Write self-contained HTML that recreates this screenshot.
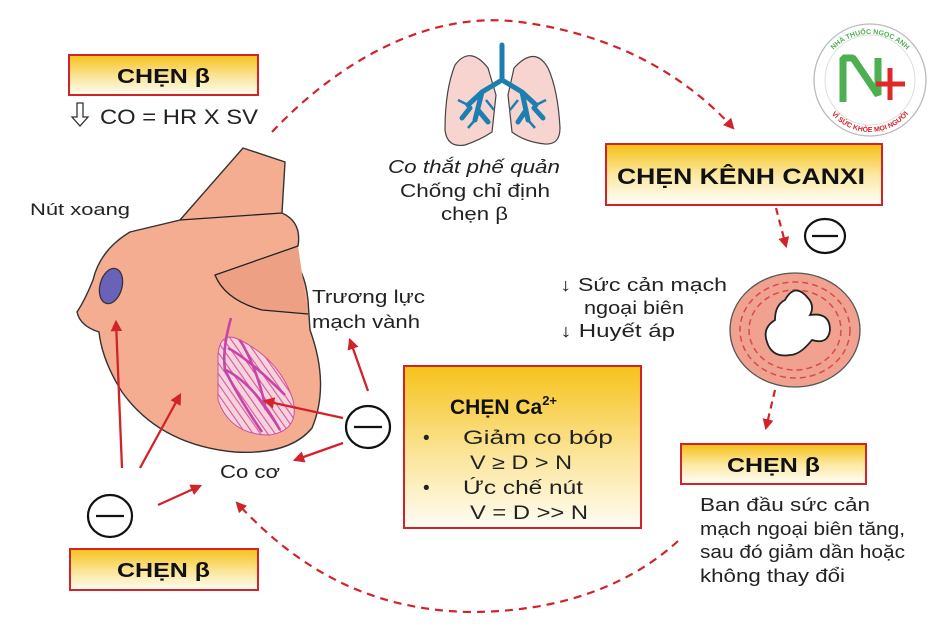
<!DOCTYPE html>
<html><head><meta charset="utf-8"><style>
html,body{margin:0;padding:0;background:#fff;}
svg{display:block;font-family:"Liberation Sans",sans-serif;}
</style></head><body>
<svg width="950" height="633" viewBox="0 0 950 633" xmlns="http://www.w3.org/2000/svg">
<defs>
<linearGradient id="yg" x1="0" y1="0" x2="0" y2="1">
<stop offset="0" stop-color="#f6c21a"/><stop offset="0.55" stop-color="#fbe59a"/><stop offset="1" stop-color="#fffdf4"/>
</linearGradient>
<linearGradient id="yg2" x1="0" y1="0" x2="0" y2="1">
<stop offset="0" stop-color="#f5bf10"/><stop offset="0.5" stop-color="#fbe8a0"/><stop offset="1" stop-color="#fffefa"/>
</linearGradient>
<pattern id="hatch" width="6" height="6" patternUnits="userSpaceOnUse" patternTransform="rotate(-35)">
<rect width="6" height="6" fill="#f7d3de"/><line x1="0" y1="0" x2="0" y2="6" stroke="#d6589a" stroke-width="2.2"/>
</pattern>
<marker id="ar" viewBox="0 0 10 10" refX="8" refY="5" markerWidth="5" markerHeight="5" orient="auto"><path d="M0,0 L10,5 L0,10 z" fill="#d2232a"/></marker>
</defs>

<!-- dashed curves -->
<path d="M272,132 C340,60 430,10 520,22 C620,35 690,80 733,128" fill="none" stroke="#d2232a" stroke-width="2.2" stroke-dasharray="8,6" marker-end="url(#ar)"/>
<path d="M776,208 L786,246" fill="none" stroke="#d2232a" stroke-width="2.2" stroke-dasharray="7,5" marker-end="url(#ar)"/>
<path d="M775,390 L766,428" fill="none" stroke="#d2232a" stroke-width="2.2" stroke-dasharray="7,5" marker-end="url(#ar)"/>
<path d="M678,541 C630,585 560,612 470,612 C360,610 290,560 237,503" fill="none" stroke="#d2232a" stroke-width="2.2" stroke-dasharray="8,6" marker-end="url(#ar)"/>

<!-- top-left box -->
<rect x="69" y="55" width="189" height="40" fill="url(#yg)" stroke="#d2232a" stroke-width="2"/>
<text x="117" y="83" font-size="20" font-weight="bold" fill="#111" textLength="93" lengthAdjust="spacingAndGlyphs">CHẸN β</text>
<path d="M77,103 v14 h-5 l8,9 l8,-9 h-5 v-14 z" fill="#fff" stroke="#333" stroke-width="1.3"/>
<text x="100" y="124" font-size="21" fill="#222" textLength="158" lengthAdjust="spacingAndGlyphs">CO = HR X SV</text>

<text x="30" y="215" font-size="17" fill="#222" textLength="100" lengthAdjust="spacingAndGlyphs">Nút xoang</text>

<!-- heart -->
<path d="M180,220 L243,148 L285,162 L282,213 Q302,222 298,246 L290,256 Q305,270 308,300 L310,330 Q330,385 312,428 Q290,455 235,452 Q160,445 122,392 Q102,360 99,332 Q80,326 77,312 Q85,300 93,280 Q100,250 130,232 Z" fill="#f5ad91" stroke="#333" stroke-width="1.4"/>
<path d="M180,220 L282,213" fill="none" stroke="#222" stroke-width="1.3"/>
<path d="M298,246 L215,275 Q225,300 262,310 L308,314" fill="#eda083" stroke="#222" stroke-width="1.3"/>
<ellipse cx="111" cy="286" rx="11" ry="18" transform="rotate(15 111 286)" fill="#6a62b8" stroke="#333" stroke-width="1.3"/>
<path d="M218,355 Q220,330 240,340 Q280,360 293,400 Q300,430 270,435 Q230,435 218,400 Z" fill="url(#hatch)" stroke="#cc4ea0" stroke-width="1"/>
<path d="M231,318 Q222,350 225,370 Q240,400 262,432 M228,348 Q250,360 285,395 M226,370 Q255,385 280,430 M240,340 Q258,370 266,410" fill="none" stroke="#c545a8" stroke-width="2.6"/>

<!-- red arrows heart -->
<g stroke="#d2232a" stroke-width="2.3" fill="none" marker-end="url(#ar)">
<line x1="122" y1="468" x2="116" y2="322"/>
<line x1="140" y1="468" x2="180" y2="395"/>
<line x1="158" y1="505" x2="200" y2="486"/>
<line x1="343" y1="418" x2="265" y2="401"/>
<line x1="368" y1="391" x2="350" y2="340"/>
<line x1="343" y1="443" x2="295" y2="460"/>
</g>

<text x="312" y="303" font-size="18" fill="#222" textLength="113" lengthAdjust="spacingAndGlyphs">Trương lực</text>
<text x="312" y="328" font-size="18" fill="#222" textLength="108" lengthAdjust="spacingAndGlyphs">mạch vành</text>
<text x="220" y="478" font-size="18" fill="#222" textLength="60" lengthAdjust="spacingAndGlyphs">Co cơ</text>

<!-- minus circles -->
<g fill="#fff" stroke="#111" stroke-width="2.2">
<ellipse cx="368" cy="427" rx="22" ry="21"/>
<ellipse cx="110" cy="516" rx="22" ry="21"/>
<ellipse cx="825" cy="236" rx="20" ry="17"/>
</g>
<g stroke="#111" stroke-width="2.2"><line x1="354" y1="427" x2="382" y2="427"/><line x1="96" y1="516" x2="124" y2="516"/><line x1="812" y1="236" x2="838" y2="236"/></g>

<!-- lungs -->
<path d="M488,68 Q470,45 455,65 Q445,90 445,130 Q447,148 465,145 Q480,140 492,132 L496,95 Z" fill="#f7d4cf" stroke="#444" stroke-width="1.2"/>
<path d="M508,95 L512,132 Q525,142 545,144 Q560,145 560,128 Q558,90 548,68 Q535,45 514,68 Z" fill="#f7d4cf" stroke="#444" stroke-width="1.2"/>
<g stroke="#1d7fb0" stroke-width="5" fill="none" stroke-linecap="round">
<line x1="502" y1="45" x2="502" y2="80"/>
<path d="M502,80 L482,92 L468,105 M482,92 L475,120 M470,108 L462,118 M478,110 L488,122"/>
<path d="M502,80 L522,92 L536,105 M522,92 L528,120 M534,108 L543,118 M526,110 L518,122"/>
</g>
<g stroke="#1d7fb0" stroke-width="2.5" fill="none"><path d="M468,105 L458,100 M475,120 L468,128 M536,105 L546,100 M528,120 L535,128 M486,100 L494,110 M518,100 L510,110"/></g>

<text x="388" y="173" font-size="18" font-style="italic" fill="#222" textLength="172" lengthAdjust="spacingAndGlyphs">Co thắt phế quản</text>
<text x="400" y="197" font-size="18" fill="#222" textLength="150" lengthAdjust="spacingAndGlyphs">Chống chỉ định</text>
<text x="441" y="220" font-size="18" fill="#222" textLength="67" lengthAdjust="spacingAndGlyphs">chẹn β</text>

<!-- logo -->
<circle cx="870" cy="80" r="56" fill="#fff" stroke="#bbb" stroke-width="1.3"/>
<circle cx="870" cy="80" r="45" fill="none" stroke="#ddd" stroke-width="1"/>
<path d="M843,102 L843,58 L853,58 L878,95 L878,58" fill="none" stroke="#4caf50" stroke-width="7" stroke-linejoin="bevel"/>
<path d="M876,84 L905,84 M890,68 L890,100" stroke="#e0282a" stroke-width="5"/>
<path id="lt" d="M822,70 A50,50 0 0 1 918,70" fill="none"/>
<path id="lb" d="M822,96 A50,50 0 0 0 918,96" fill="none"/>
<text font-size="7" font-weight="bold" fill="#4caf50"><textPath href="#lt" startOffset="50%" text-anchor="middle">NHÀ THUỐC NGỌC ANH</textPath></text>
<text font-size="7" font-weight="bold" fill="#d2232a"><textPath href="#lb" startOffset="50%" text-anchor="middle">VÌ SỨC KHỎE MỌI NGƯỜI</textPath></text>

<!-- canxi box -->
<rect x="606" y="144" width="276" height="61" fill="url(#yg2)" stroke="#d2232a" stroke-width="2"/>
<text x="617" y="184" font-size="22" font-weight="bold" fill="#111" textLength="248" lengthAdjust="spacingAndGlyphs">CHẸN KÊNH CANXI</text>

<!-- vessel -->
<ellipse cx="795" cy="330" rx="65" ry="57" fill="#f1a190" stroke="#555" stroke-width="1.3"/>
<ellipse cx="795" cy="330" rx="55" ry="48" fill="none" stroke="#d84a4a" stroke-width="1.5" stroke-dasharray="6,4"/>
<ellipse cx="795" cy="330" rx="46" ry="40" fill="none" stroke="#d84a4a" stroke-width="1.5" stroke-dasharray="6,4"/>
<path d="M785,300 Q795,282 808,298 Q815,306 810,315 Q830,312 830,330 Q828,345 812,340 Q800,355 790,355 Q772,358 767,342 Q762,328 775,320 Q775,305 785,300 Z" fill="#fff" stroke="#222" stroke-width="1.8"/>

<text x="560" y="291" font-size="18" fill="#222" textLength="167" lengthAdjust="spacingAndGlyphs">↓ Sức cản mạch</text>
<text x="584" y="314" font-size="18" fill="#222" textLength="100" lengthAdjust="spacingAndGlyphs">ngoại biên</text>
<text x="560" y="337" font-size="18" fill="#222" textLength="115" lengthAdjust="spacingAndGlyphs">↓ Huyết áp</text>

<!-- Ca box -->
<rect x="404" y="366" width="237" height="162" fill="url(#yg)" stroke="#d2232a" stroke-width="2"/>
<text x="450" y="414" font-size="21" font-weight="bold" fill="#111">CHẸN Ca<tspan font-size="13" dy="-9">2+</tspan></text>
<text x="423" y="444" font-size="19" fill="#222">•</text>
<text x="463" y="444" font-size="19" fill="#222" textLength="150" lengthAdjust="spacingAndGlyphs">Giảm co bóp</text>
<text x="470" y="469" font-size="19" fill="#222" textLength="102" lengthAdjust="spacingAndGlyphs">V ≥ D &gt; N</text>
<text x="423" y="494" font-size="19" fill="#222">•</text>
<text x="463" y="494" font-size="19" fill="#222" textLength="120" lengthAdjust="spacingAndGlyphs">Ức chế nút</text>
<text x="470" y="519" font-size="19" fill="#222" textLength="118" lengthAdjust="spacingAndGlyphs">V = D &gt;&gt; N</text>

<!-- right beta box -->
<rect x="681" y="444" width="185" height="40" fill="url(#yg2)" stroke="#d2232a" stroke-width="2"/>
<text x="727" y="472" font-size="20" font-weight="bold" fill="#111" textLength="93" lengthAdjust="spacingAndGlyphs">CHẸN β</text>
<text x="700" y="511" font-size="18" fill="#222" textLength="170" lengthAdjust="spacingAndGlyphs">Ban đầu sức cản</text>
<text x="700" y="535" font-size="18" fill="#222" textLength="205" lengthAdjust="spacingAndGlyphs">mạch ngoại biên tăng,</text>
<text x="700" y="558" font-size="18" fill="#222" textLength="205" lengthAdjust="spacingAndGlyphs">sau đó giảm dần hoặc</text>
<text x="700" y="582" font-size="18" fill="#222" textLength="145" lengthAdjust="spacingAndGlyphs">không thay đổi</text>

<!-- bottom-left box -->
<rect x="70" y="549" width="188" height="41" fill="url(#yg)" stroke="#d2232a" stroke-width="2"/>
<text x="117" y="577" font-size="20" font-weight="bold" fill="#111" textLength="93" lengthAdjust="spacingAndGlyphs">CHẸN β</text>
</svg>
</body></html>
